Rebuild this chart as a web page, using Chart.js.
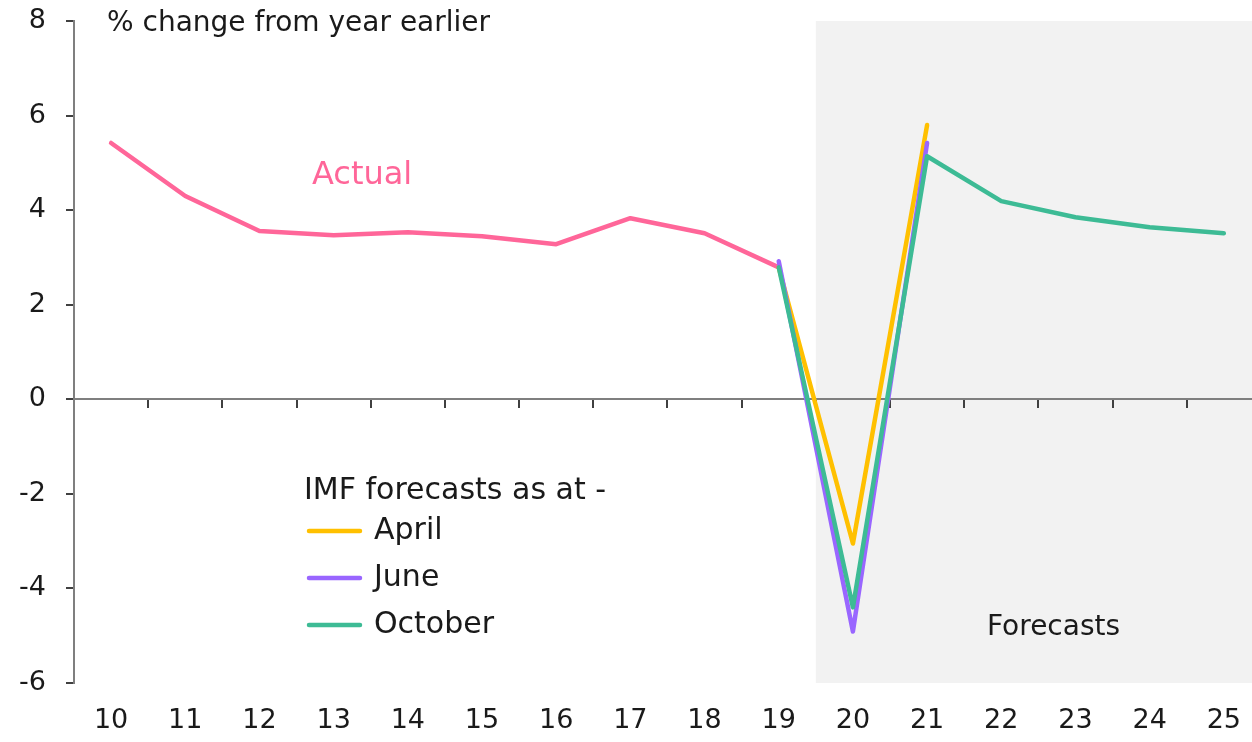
<!DOCTYPE html>
<html>
<head>
<meta charset="utf-8">
<script src="https://cdn.jsdelivr.net/npm/chart.js@4/dist/chart.umd.min.js"></script>
<style>
  html, body { margin: 0; padding: 0; background: #fff; overflow: hidden; }
  #wrap { width: 1263px; height: 742px; }
</style>
</head>
<body>
<div id="wrap"><canvas id="gdp" width="1263" height="742"></canvas></div>
<script>
// Year labels (20xx) and series values
const years    = ['10','11','12','13','14','15','16','17','18','19','20','21','22','23','24','25'];
const actual   = [5.42, 4.30, 3.56, 3.47, 3.53, 3.45, 3.28, 3.83, 3.51, 2.79, null, null, null, null, null, null];
const april    = [null, null, null, null, null, null, null, null, null, 2.79, -3.05, 5.80, null, null, null, null];
const june     = [null, null, null, null, null, null, null, null, null, 2.92, -4.91, 5.42, null, null, null, null];
const october  = [null, null, null, null, null, null, null, null, null, 2.79, -4.40, 5.14, 4.19, 3.85, 3.64, 3.51];
const yTicks   = { min: -6, max: 8, step: 2 };
const firstForecast = '20';

const FONT   = 'DejaVu Sans';
const INK    = '#1a1a1a';
const AXIS   = '#7f7f7f';
const C_ACT  = '#ff6699';
const C_APR  = '#ffc000';
const C_JUN  = '#9966ff';
const C_OCT  = '#3dbb95';

// grey band behind the forecast years
const shadePlugin = {
  id: 'shade',
  beforeDraw(chart) {
    const { ctx, chartArea, scales: { x } } = chart;
    const i = years.indexOf(firstForecast);
    const left = (x.getPixelForValue(i - 1) + x.getPixelForValue(i)) / 2;
    ctx.save();
    ctx.fillStyle = '#f2f2f2';
    ctx.fillRect(left, chartArea.top, chartArea.right - left, chartArea.bottom - chartArea.top);
    ctx.restore();
  }
};

// free text + hand-made legend
const notesPlugin = {
  id: 'notes',
  afterDatasetsDraw(chart) {
    const { ctx } = chart;
    ctx.save();
    ctx.textBaseline = 'middle';
    ctx.textAlign = 'left';
    ctx.font = `28px "${FONT}"`;
    ctx.fillStyle = INK;
    ctx.fillText('% change from year earlier', 107, 24);
    ctx.fillStyle = C_ACT;
    ctx.font = `32px "${FONT}"`;
    ctx.fillText('Actual', 312, 176);
    ctx.fillStyle = INK;
    ctx.font = `30px "${FONT}"`;
    ctx.fillText('IMF forecasts as at -', 304, 491);
    const entries = [['April', C_APR], ['June', C_JUN], ['October', C_OCT]];
    entries.forEach(([name, col], k) => {
      const y = 531 + k * 47;
      ctx.strokeStyle = col;
      ctx.lineWidth = 4.5;
      ctx.lineCap = 'round';
      ctx.beginPath();
      ctx.moveTo(309, y);
      ctx.lineTo(360, y);
      ctx.stroke();
      ctx.fillStyle = INK;
      ctx.fillText(name, 374, y);
    });
    ctx.font = `28px "${FONT}"`;
    ctx.fillText('Forecasts', 987, 628);
    ctx.restore();
  }
};

const line = (label, data, color) => ({
  label, data, borderColor: color, backgroundColor: color,
  borderWidth: 4.5, pointRadius: 0, tension: 0, spanGaps: false,
  borderCapStyle: 'round', borderJoinStyle: 'round'
});

new Chart(document.getElementById('gdp').getContext('2d'), {
  type: 'line',
  data: {
    labels: years,
    datasets: [
      line('October', october, C_OCT),
      line('June', june, C_JUN),
      line('April', april, C_APR),
      line('Actual', actual, C_ACT)
    ]
  },
  options: {
    responsive: false,
    animation: false,
    layout: { padding: 0 },
    plugins: { legend: { display: false }, tooltip: { enabled: false } },
    scales: {
      x: {
        type: 'category', offset: true, position: 'bottom',
        grid: { display: false, drawTicks: false },
        border: { display: false },
        ticks: { color: INK, padding: 22, maxRotation: 0, autoSkip: false, font: { size: 27, family: FONT } },
        afterFit: s => { s.height = 59; }
      },
      x0: {
        type: 'category', offset: true, position: { y: 0 },
        grid: { display: true, offset: true, drawOnChartArea: false, drawTicks: true, tickLength: 8, color: '#404040', lineWidth: 2 },
        border: { display: true, color: AXIS, width: 2 },
        ticks: { display: false }
      },
      y: {
        min: yTicks.min, max: yTicks.max,
        grid: { drawOnChartArea: false, drawTicks: true, tickLength: 8, color: '#404040', lineWidth: 2 },
        border: { display: true, color: AXIS, width: 2 },
        ticks: { stepSize: yTicks.step, color: INK, padding: 20, font: { size: 27, family: FONT } },
        afterFit: s => { s.width = 74; s.paddingTop = 21; s.paddingBottom = 16; }
      }
    }
  },
  plugins: [shadePlugin, notesPlugin]
});
</script>
</body>
</html>
